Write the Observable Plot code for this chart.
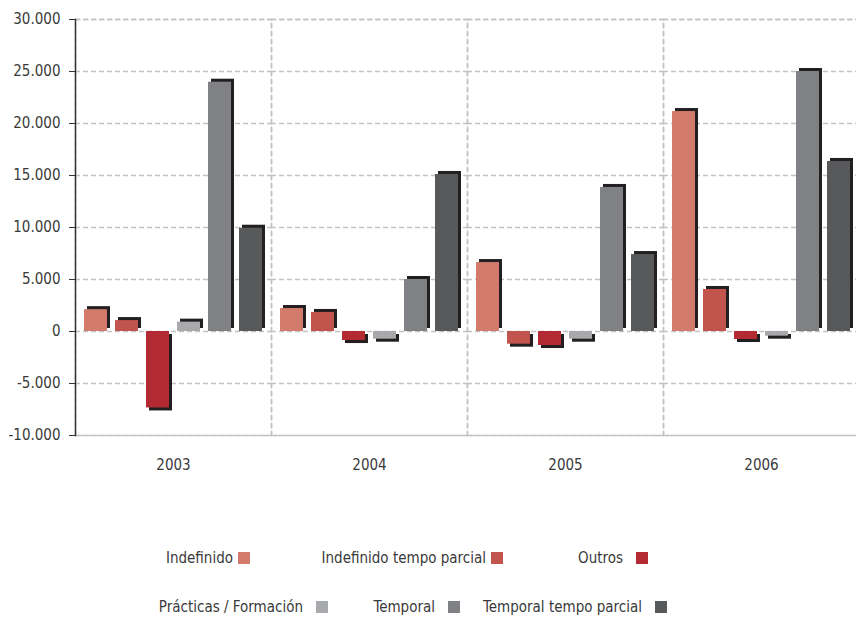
<!DOCTYPE html>
<html>
<head>
<meta charset="utf-8">
<script src="https://cdn.jsdelivr.net/npm/d3@7"></script>
<script src="https://cdn.jsdelivr.net/npm/@observablehq/plot@0.6"></script>
<style>
  html, body { margin: 0; padding: 0; background: #fff; overflow: hidden; }
  #wrap { position: relative; width: 856px; height: 621px; overflow: hidden; font-family: "DejaVu Sans", sans-serif; font-stretch: condensed; color: #3a3a3a; }
  #chart { position: absolute; left: 0; top: 0; width: 859px; }
  #chart svg { max-width: none !important; }
  .leg { position: absolute; font-size: 15px; line-height: 20px; white-space: nowrap; display: flex; align-items: center; }
  .sw { display: inline-block; width: 12px; height: 12px; margin-left: 6px; }
</style>
</head>
<body>
<div id="wrap">
  <div id="chart"></div>
  <div id="legend"></div>
</div>
<script>
const years = ["2003", "2004", "2005", "2006"];
const types = ["Indefinido", "Indefinido tempo parcial", "Outros", "Prácticas / Formación", "Temporal", "Temporal tempo parcial"];
const colors = ["#d27b6d", "#c1554e", "#b42a33", "#a8a9ac", "#808185", "#58595b"];
const v2003 = [2100, 1050, -7350, 900, 23970, 9930];
const v2004 = [2210, 1830, -870, -740, 5000, 15100];
const v2005 = [6630, -1220, -1350, -740, 13850, 7400];
const v2006 = [21150, 4040, -770, -450, 25000, 16350];
const yTicks = [-10000, -5000, 0, 5000, 10000, 15000, 20000, 25000, 30000];

const series = [v2003, v2004, v2005, v2006];
const data = [];
years.forEach((yr, i) => types.forEach((t, j) => data.push({year: yr, type: t, value: series[i][j]})));
const pos = data.filter(d => d.value >= 0);
const neg = data.filter(d => d.value < 0);

const fmt = d => (d < 0 ? "-" : "") + Math.abs(d).toString().replace(/\B(?=(\d{3})+(?!\d))/g, ".");
const font = '"DejaVu Sans", sans-serif';

const chart = Plot.plot({
  width: 859,
  height: 485,
  marginLeft: 75,
  marginRight: 0,
  marginTop: 19,
  marginBottom: 50,
  style: {fontFamily: font, fontStretch: "condensed", fontSize: "15px", color: "#3a3a3a", background: "transparent", maxWidth: "none"},
  fx: {domain: years, padding: 0, label: null},
  x: {domain: types, padding: 0.26, axis: null},
  y: {domain: [-10000, 30000], label: null},
  color: {domain: types, range: colors},
  marks: [
    Plot.gridY(yTicks, {stroke: "#c2c2c2", strokeOpacity: 1, strokeWidth: 1.5, strokeDasharray: "5,3"}),
    Plot.frame({stroke: "#c2c2c2", strokeWidth: 1.5, strokeDasharray: "5,3"}),
    Plot.barY(pos, {fx: "year", x: "type", y: "value", fill: "#231f20", dx: 3, dy: -3}),
    Plot.barY(neg, {fx: "year", x: "type", y: "value", fill: "#231f20", dx: 3, dy: 3}),
    Plot.barY(data, {fx: "year", x: "type", y: "value", fill: "type"}),
    Plot.axisY(yTicks, {tickFormat: fmt, tickSize: 6, tickPadding: 9, stroke: "#333", fill: "#3a3a3a", label: null, fontSize: 15}),
    Plot.frame({anchor: "left", facetAnchor: "left", stroke: "#333", strokeWidth: 1.5}),
    Plot.axisFx({anchor: "bottom", tickSize: 0, tickPadding: 24, label: null, fill: "#3a3a3a", fontSize: 15})
  ]
});
chart.style.maxWidth = "none";
document.getElementById("chart").appendChild(chart);

// legend: each item anchored at its swatch's right edge
const legRight = [250, 503, 648, 328, 460, 667];
const legTop = [548, 548, 548, 597, 597, 597];
const spacing = [5, 5, 13, 13, 13, 13];
const leg = document.getElementById("legend");
types.forEach((t, i) => {
  const div = document.createElement("div");
  div.className = "leg";
  div.style.right = (856 - legRight[i]) + "px";
  div.style.top = legTop[i] + "px";
  const span = document.createElement("span");
  span.textContent = t;
  const sw = document.createElement("span");
  sw.className = "sw";
  sw.style.background = colors[i];
  sw.style.marginLeft = spacing[i] + "px";
  div.appendChild(span);
  div.appendChild(sw);
  leg.appendChild(div);
});
</script>
</body>
</html>
